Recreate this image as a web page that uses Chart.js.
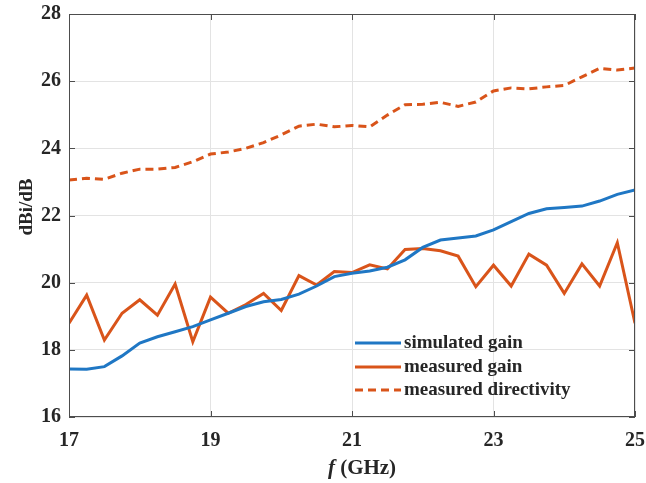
<!DOCTYPE html>
<html>
<head>
<meta charset="utf-8">
<script src="https://cdn.jsdelivr.net/npm/chart.js@4.4.0/dist/chart.umd.min.js"></script>
<style>
    body { margin: 0; background: #fff; }
    #wrap { width: 646px; height: 483px; }
</style>
</head>
<body>
<div id="wrap"><canvas id="gainChart" width="646" height="483"></canvas></div>
<script>
// frequency points (GHz)
const freqs = [17, 17.25, 17.5, 17.75, 18, 18.25, 18.5, 18.75, 19, 19.25, 19.5, 19.75,
    20, 20.25, 20.5, 20.75, 21, 21.25, 21.5, 21.75, 22, 22.25, 22.5, 22.75,
    23, 23.25, 23.5, 23.75, 24, 24.25, 24.5, 24.75, 25];

const simulatedGain = [17.43, 17.42, 17.50, 17.82, 18.20, 18.39, 18.54, 18.69, 18.89, 19.09, 19.29, 19.43,
    19.50, 19.66, 19.90, 20.18, 20.28, 20.35, 20.46, 20.68, 21.05, 21.27, 21.33, 21.39,
    21.57, 21.82, 22.06, 22.20, 22.24, 22.28, 22.43, 22.63, 22.76];

const measuredGain = [18.79, 19.63, 18.29, 19.09, 19.49, 19.03, 19.96, 18.24, 19.57, 19.09, 19.35, 19.68,
    19.17, 20.21, 19.93, 20.33, 20.30, 20.53, 20.41, 20.99, 21.02, 20.95, 20.79, 19.88,
    20.52, 19.90, 20.85, 20.52, 19.68, 20.56, 19.90, 21.19, 18.79];

const measuredDirectivity = [23.06, 23.11, 23.08, 23.26, 23.38, 23.38, 23.43, 23.60, 23.83, 23.89, 24.00, 24.17,
    24.40, 24.66, 24.72, 24.64, 24.68, 24.64, 24.99, 25.30, 25.31, 25.37, 25.25, 25.38,
    25.71, 25.80, 25.77, 25.83, 25.87, 26.13, 26.38, 26.33, 26.39];

const xTicks = [17, 19, 21, 23, 25];
const yTicks = [16, 18, 20, 22, 24, 26, 28];

const seriesNames = ['simulated gain', 'measured gain', 'measured directivity'];
const yTitle = 'dBi/dB';

const SERIF = "'Liberation Serif', 'Times New Roman', serif";
const TEXT = '#262626';

function toPoints(values) {
    return values.map((v, i) => ({ x: freqs[i], y: v }));
}

// กรอบแกน + ขีดแกนเข้าด้านใน + ชื่อแกน + คำอธิบาย
const boxAndLegend = {
    id: 'boxAndLegend',
    afterDraw(chart) {
        const ctx = chart.ctx;
        const a = chart.chartArea;
        const xs = chart.scales.x;
        const ys = chart.scales.y;
        ctx.save();
        ctx.strokeStyle = '#4d4d4d';
        ctx.lineWidth = 1;
        ctx.strokeRect(a.left + 0.5, a.top + 0.5, a.right - a.left - 1, a.bottom - a.top - 1);
        ctx.beginPath();
        xTicks.forEach(t => {
            const px = Math.round(xs.getPixelForValue(t)) + 0.5;
            ctx.moveTo(px, a.bottom); ctx.lineTo(px, a.bottom - 6);
            ctx.moveTo(px, a.top); ctx.lineTo(px, a.top + 6);
        });
        yTicks.forEach(t => {
            const py = Math.round(ys.getPixelForValue(t)) + 0.5;
            ctx.moveTo(a.left, py); ctx.lineTo(a.left + 6, py);
            ctx.moveTo(a.right, py); ctx.lineTo(a.right - 6, py);
        });
        ctx.stroke();

        // x title: italic f + (GHz)
        ctx.fillStyle = TEXT;
        ctx.textBaseline = 'middle';
        ctx.textAlign = 'left';
        const fPart = 'f';
        const rest = ' (GHz)';
        ctx.font = 'italic bold 21px ' + SERIF;
        const wF = ctx.measureText(fPart).width;
        ctx.font = 'bold 21px ' + SERIF;
        const wR = ctx.measureText(rest).width;
        const cx = (a.left + a.right) / 2 + 10;
        const x0 = cx - (wF + wR) / 2;
        ctx.font = 'italic bold 21px ' + SERIF;
        ctx.fillText(fPart, x0, 469);
        ctx.font = 'bold 21px ' + SERIF;
        ctx.fillText(rest, x0 + wF, 469);

        // y title
        ctx.save();
        ctx.translate(27, 207);
        ctx.rotate(-Math.PI / 2);
        ctx.textAlign = 'center';
        ctx.font = 'bold 19px ' + SERIF;
        ctx.fillText(yTitle, 0, 0);
        ctx.restore();

        // legend
        const lx = a.right - 280;
        const rows = [a.top + 329, a.top + 353, a.top + 376];
        ctx.font = 'bold 19px ' + SERIF;
        ctx.textAlign = 'left';
        chart.data.datasets.forEach((ds, i) => {
            const y = rows[i];
            ctx.beginPath();
            ctx.strokeStyle = ds.borderColor;
            ctx.lineWidth = 3;
            ctx.setLineDash(ds.borderDash || []);
            ctx.moveTo(lx, y);
            ctx.lineTo(lx + 46, y);
            ctx.stroke();
            ctx.setLineDash([]);
            ctx.fillStyle = TEXT;
            ctx.fillText(ds.label, lx + 49, y);
        });
        ctx.restore();
    }
};

new Chart(document.getElementById('gainChart'), {
    type: 'line',
    data: {
        datasets: [
            {
                label: seriesNames[0],
                data: toPoints(simulatedGain),
                borderColor: '#1f77c4',
                borderWidth: 3,
                pointRadius: 0,
                tension: 0
            },
            {
                label: seriesNames[1],
                data: toPoints(measuredGain),
                borderColor: '#d9541a',
                borderWidth: 3,
                pointRadius: 0,
                tension: 0
            },
            {
                label: seriesNames[2],
                data: toPoints(measuredDirectivity),
                borderColor: '#d9541a',
                borderWidth: 3,
                borderDash: [8, 5],
                pointRadius: 0,
                tension: 0
            }
        ]
    },
    options: {
        responsive: false,
        animation: false,
        devicePixelRatio: 1,
        layout: { padding: { left: 0, right: 11, top: 14, bottom: 0 } },
        plugins: {
            legend: { display: false },
            tooltip: { enabled: false }
        },
        scales: {
            x: {
                type: 'linear',
                min: 17,
                max: 25,
                afterBuildTicks: s => { s.ticks = xTicks.map(v => ({ value: v })); },
                afterFit: s => {
                    s.height = 66;
                    s.paddingLeft = 0;
                    s.paddingRight = 0;
                },
                grid: { color: '#e3e3e3', drawTicks: false },
                border: { display: false },
                ticks: {
                    color: TEXT,
                    padding: 12,
                    font: { family: SERIF, size: 20, weight: 'bold' }
                }
            },
            y: {
                min: 16,
                max: 28,
                afterBuildTicks: s => { s.ticks = yTicks.map(v => ({ value: v })); },
                afterFit: s => {
                    s.width = 69;
                    s.paddingTop = 0;
                    s.paddingBottom = 0;
                },
                grid: { color: '#e3e3e3', drawTicks: false },
                border: { display: false },
                ticks: {
                    color: TEXT,
                    padding: 8,
                    font: { family: SERIF, size: 20, weight: 'bold' }
                }
            }
        }
    },
    plugins: [boxAndLegend]
});
</script>
</body>
</html>
